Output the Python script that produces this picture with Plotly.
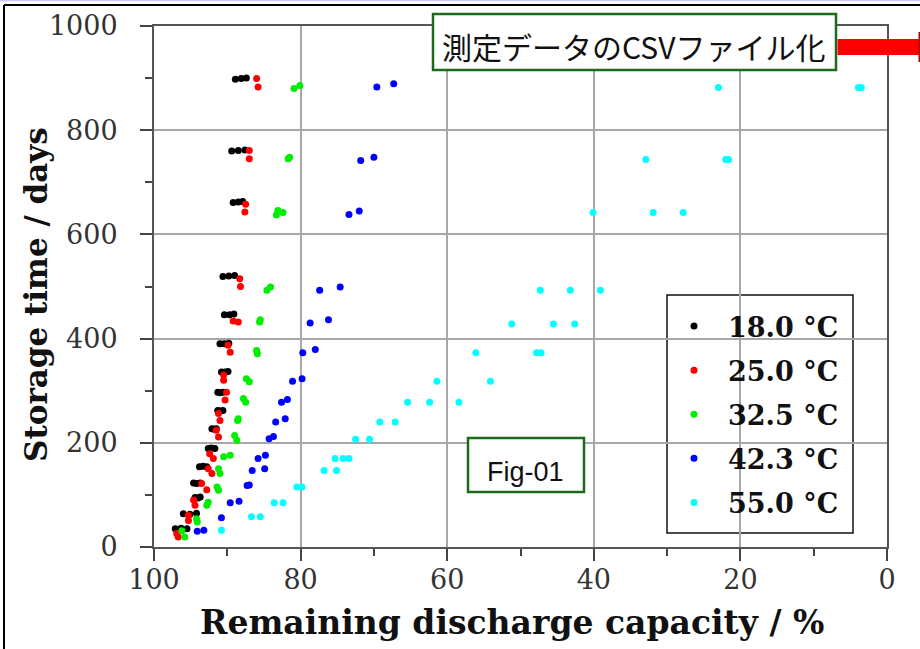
import plotly.graph_objects as go

# ---------------- data ----------------
temps = ["18.0 °C", "25.0 °C", "32.5 °C", "42.3 °C", "55.0 °C"]
colors = ["#000000", "#ff0000", "#00ee00", "#0000ff", "#00ffff"]

cap_18 = [97.1, 95.5, 96.3, 96.0, 94.2, 95.1, 94.4, 93.7, 94.0, 94.6, 93.7, 94.2,
          93.8, 92.8, 93.3, 92.6, 91.7, 92.2, 92.1, 91.5, 91.8, 91.3, 90.6, 91.0,
          91.3, 90.6, 91.0, 90.8, 89.9, 90.3, 91.0, 89.8, 90.4, 90.4, 89.1, 89.7,
          90.6, 89.0, 89.8, 89.2, 87.9, 88.5, 89.4, 87.6, 88.5, 88.9, 87.4, 88.1]
days_18 = [35, 35, 36, 64, 65, 63, 95, 96, 94, 123, 123, 122,
           154, 154, 155, 189, 189, 190, 227, 227, 226, 262, 262, 261,
           297, 297, 296, 336, 337, 336, 390, 391, 390, 446, 447, 446,
           519, 521, 520, 661, 663, 662, 760, 762, 761, 898, 900, 899]

cap_25 = [96.9, 96.7, 95.3, 95.3, 94.6, 94.4, 93.5, 92.8, 92.6, 92.1, 92.4, 91.9,
          91.5, 91.2, 91.2, 91.0, 90.1, 90.3, 90.5, 90.5, 89.9, 89.6, 89.2, 88.5,
          88.3, 88.2, 87.5, 87.6, 87.0, 87.0, 86.0, 85.8]
days_25 = [26, 19, 61, 51, 90, 80, 122, 110, 150, 141, 179, 170,
           224, 211, 256, 243, 297, 282, 330, 320, 387, 374, 434, 432,
           515, 500, 658, 643, 761, 745, 899, 883]

cap_325 = [96.2, 95.8, 94.2, 94.1, 92.6, 92.8, 91.4, 91.2, 91.2, 91.0, 90.5, 89.6,
           89.0, 88.7, 88.6, 88.5, 87.8, 87.5, 87.4, 87.0, 86.0, 85.9, 85.6, 85.5,
           84.6, 84.1, 83.3, 83.1, 82.4, 81.7, 81.5, 80.9, 80.1]
days_325 = [31, 19, 54, 48, 86, 80, 115, 109, 150, 141, 173, 176,
            214, 205, 243, 246, 285, 278, 323, 317, 377, 371, 432, 436,
            493, 499, 637, 646, 642, 745, 748, 880, 886]

cap_423 = [94.1, 93.2, 90.8, 89.6, 88.4, 87.3, 87.0, 86.6, 84.9, 85.8, 84.8,
           84.3, 83.7, 83.4, 82.1, 82.6, 81.8, 81.1, 79.8, 79.7, 78.0, 78.7, 76.2,
           77.4, 74.6, 73.4, 72.0, 71.8, 70.0, 69.6, 67.3]
days_423 = [30, 32, 56, 85, 88, 118, 119, 147, 150, 170, 176,
            208, 212, 240, 246, 278, 283, 318, 323, 373, 379, 430, 436,
            493, 499, 638, 645, 742, 748, 883, 889]

cap_55 = [90.8, 86.7, 85.5, 83.6, 82.4, 80.5, 79.8, 76.8, 75.1, 75.3, 74.2, 73.4,
          72.5, 70.6, 69.2, 67.1, 65.4, 62.4, 58.4, 61.4, 54.1, 56.1, 47.8, 47.2,
          51.2, 45.5, 42.6, 47.3, 43.2, 39.1, 40.1, 31.9, 27.8, 32.9, 21.6, 22.0,
          23.0, 3.9, 3.5]
days_55 = [32, 58, 58, 85, 85, 115, 115, 147, 147, 170, 170, 170,
           207, 207, 240, 240, 278, 278, 278, 318, 318, 373, 373, 373,
           428, 428, 428, 493, 493, 493, 642, 642, 642, 744, 744, 744,
           882, 882, 882]

x_ticks = [100, 80, 60, 40, 20, 0]
y_ticks = [0, 200, 400, 600, 800, 1000]

series_x = [cap_18, cap_25, cap_325, cap_423, cap_55]
series_y = [days_18, days_25, days_325, days_423, days_55]

# ---------------- figure ----------------
W, H = 920, 649
L, R, T, B = 154, 887, 26, 547


def px(x):
    return (x - L) / (R - L)


def py(y):
    return (B - y) / (B - T)


fig = go.Figure()
for name, col, xs, ys in zip(temps, colors, series_x, series_y):
    fig.add_trace(go.Scatter(
        x=xs, y=ys, mode="markers", name=name, legendgroup=name,
        marker=dict(color=col, size=7, line=dict(width=0)),
    ))

tickfont = dict(family="DejaVu Serif", size=27, color="#333333")
axis_common = dict(
    showline=True, linecolor="#555555", linewidth=2, mirror=True,
    showgrid=True, gridcolor="#a8a8a8", gridwidth=2,
    ticks="outside", ticklen=12, tickwidth=2, tickcolor="#444444",
    tickfont=tickfont, zeroline=False,
)

fig.update_xaxes(range=[100, 0], tickvals=x_ticks, ticklabelstandoff=-4,
                 minor=dict(ticks="outside", ticklen=7, tickwidth=2,
                            tickcolor="#444444", dtick=10, showgrid=False),
                 **axis_common)
fig.update_yaxes(range=[0, 1000], tickvals=y_ticks, ticklabelstandoff=17,
                 minor=dict(ticks="outside", ticklen=7, tickwidth=2,
                            tickcolor="#444444", dtick=100, showgrid=False),
                 **axis_common)

shapes = []
# legend box
shapes.append(dict(type="rect", xref="paper", yref="paper",
                   x0=px(667), x1=px(853), y0=py(533), y1=py(295),
                   fillcolor="rgba(255,255,255,0.8)",
                   line=dict(color="#111111", width=1.5), layer="between"))
# CSV label box
shapes.append(dict(type="rect", xref="paper", yref="paper",
                   x0=px(433), x1=px(836), y0=py(70), y1=py(14),
                   fillcolor="white", line=dict(color="#1b6b1b", width=2.5)))
# red arrow bar
shapes.append(dict(type="rect", xref="paper", yref="paper",
                   x0=px(837.5), x1=px(921), y0=py(55), y1=py(39),
                   fillcolor="#ff0000", line=dict(width=0)))
shapes.append(dict(type="rect", xref="paper", yref="paper",
                   x0=px(918.5), x1=px(921), y0=py(62), y1=py(32),
                   fillcolor="#b00000", line=dict(width=0)))
# Fig-01 box
shapes.append(dict(type="rect", xref="paper", yref="paper",
                   x0=px(468), x1=px(584), y0=py(492), y1=py(438),
                   fillcolor="white", line=dict(color="#1b6b1b", width=2.5)))
# outer frame
shapes.append(dict(type="line", xref="paper", yref="paper",
                   x0=px(4), x1=px(4), y0=py(5), y1=py(660),
                   line=dict(color="#000000", width=2)))
shapes.append(dict(type="line", xref="paper", yref="paper",
                   x0=px(4), x1=px(925), y0=py(5), y1=py(5),
                   line=dict(color="#000000", width=2)))
shapes.append(dict(type="line", xref="paper", yref="paper",
                   x0=px(0), x1=px(925), y0=py(0.5), y1=py(0.5),
                   line=dict(color="#c8c8f0", width=1.5)))

annotations = [
    dict(text="Remaining discharge capacity / %", xref="paper", yref="paper",
         x=px(512), y=py(622), xanchor="center", yanchor="middle", showarrow=False,
         font=dict(family="DejaVu Serif", size=33, color="#111111", weight=700)),
    dict(text="Storage time / days", xref="paper", yref="paper",
         x=px(36), y=py(295), xanchor="center", yanchor="middle", showarrow=False,
         textangle=-90,
         font=dict(family="DejaVu Serif", size=31, color="#111111", weight=700)),
    dict(text="測定データのCSVファイル化", xref="paper", yref="paper",
         x=px(633), y=py(46), xanchor="center", yanchor="middle", showarrow=False,
         font=dict(family="Noto Sans CJK JP", size=30, color="#111111")),
    dict(text="Fig-01", xref="paper", yref="paper",
         x=px(525), y=py(472), xanchor="center", yanchor="middle", showarrow=False,
         font=dict(family="Liberation Sans", size=27, color="#111111")),
]

fig.update_layout(
    width=W, height=H,
    margin=dict(l=L, r=W - R, t=T, b=H - B, autoexpand=False),
    paper_bgcolor="white", plot_bgcolor="white",
    showlegend=True,
    legend=dict(
        x=px(660), xanchor="left", y=py(302), yanchor="top",
        bgcolor="rgba(0,0,0,0)", borderwidth=0, itemwidth=58,
        tracegroupgap=6,
        font=dict(family="DejaVu Serif", size=27, color="#111111", weight=700),
    ),
    shapes=shapes,
    annotations=annotations,
)

fig.write_html("out.html",
               config={"displayModeBar": False},
               post_script="document.body.style.margin='0px';"
                           "document.body.style.overflow='hidden';")
